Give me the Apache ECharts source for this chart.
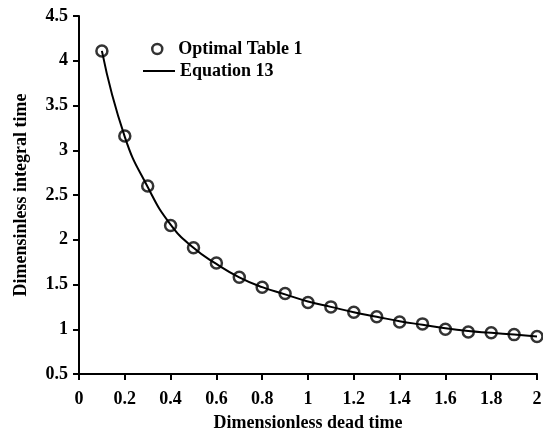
<!DOCTYPE html>
<html><head><meta charset="utf-8">
<script src="https://cdn.jsdelivr.net/npm/echarts@6/dist/echarts.min.js"></script>
<style>html,body{margin:0;padding:0;background:#fff}#c{width:543px;height:434px}</style>
</head><body><div id="c"></div>
<script>
const xValues = [0.1,0.2,0.3,0.4,0.5,0.6,0.7,0.8,0.9,1.0,1.1,1.2,1.3,1.4,1.5,1.6,1.7,1.8,1.9,2.0];
const optimalTable1 = [4.11,3.16,2.60,2.16,1.91,1.74,1.58,1.47,1.40,1.30,1.25,1.19,1.14,1.08,1.06,1.00,0.97,0.96,0.94,0.92];
const equation13 = [4.11,3.15,2.59,2.17,1.91,1.73,1.58,1.47,1.39,1.31,1.25,1.19,1.14,1.09,1.05,1.01,0.98,0.96,0.94,0.92];
const xTickLabels = ['0','0.2','0.4','0.6','0.8','1','1.2','1.4','1.6','1.8','2'];
const font = 'Liberation Serif';
const txt = {fontFamily:font,fontSize:18,color:'#000',fontWeight:'bold'};
const chart = echarts.init(document.getElementById('c'));
chart.setOption({
  animation:false,
  grid:{left:79,right:6,top:16,bottom:60,outerBoundsMode:'none',containLabel:false},
  legend:[
    {orient:'vertical',left:151,top:40,padding:0,itemWidth:32,itemHeight:10,
     textStyle:txt,
     data:[{name:'Optimal Table 1',icon:'circle',itemStyle:{color:'#fff',borderColor:'#000',borderWidth:2.5}}]},
    {orient:'vertical',left:143,top:62,padding:0,itemWidth:32,itemHeight:2,
     textStyle:txt,
     data:[{name:'Equation 13',icon:'rect',itemStyle:{color:'#000'}}]}
  ],
  xAxis:{type:'value',min:0,max:2,interval:0.2,
    name:'Dimensionless dead time',nameLocation:'middle',nameGap:40,
    nameTextStyle:txt,
    axisLine:{lineStyle:{color:'#000',width:2}},
    axisTick:{lineStyle:{color:'#000',width:2},length:6},
    axisLabel:Object.assign({},txt,{margin:16,formatter:v=>{const i=Math.round(v/0.2);return xTickLabels[i]!==undefined?xTickLabels[i]:'';}}),
    splitLine:{show:false}},
  yAxis:{type:'value',min:0.5,max:4.5,interval:0.5,
    name:'Dimensinless integral time',nameLocation:'middle',nameGap:49,
    nameTextStyle:txt,
    axisLine:{show:true,lineStyle:{color:'#000',width:2}},
    axisTick:{show:true,lineStyle:{color:'#000',width:2},length:6},
    axisLabel:Object.assign({},txt,{margin:11}),
    splitLine:{show:false}},
  series:[
    {name:'Equation 13',type:'line',smooth:true,showSymbol:false,symbol:'none',
     data:xValues.map((x,i)=>[x,equation13[i]]),lineStyle:{color:'#000',width:2},itemStyle:{color:'#000'},z:2},
    {name:'Optimal Table 1',type:'scatter',symbol:'circle',symbolSize:11,
     data:xValues.map((x,i)=>[x,optimalTable1[i]]),
     itemStyle:{color:'rgba(255,255,255,0)',borderColor:'#000',borderWidth:2.5},z:3}
  ]
});
</script></body></html>
